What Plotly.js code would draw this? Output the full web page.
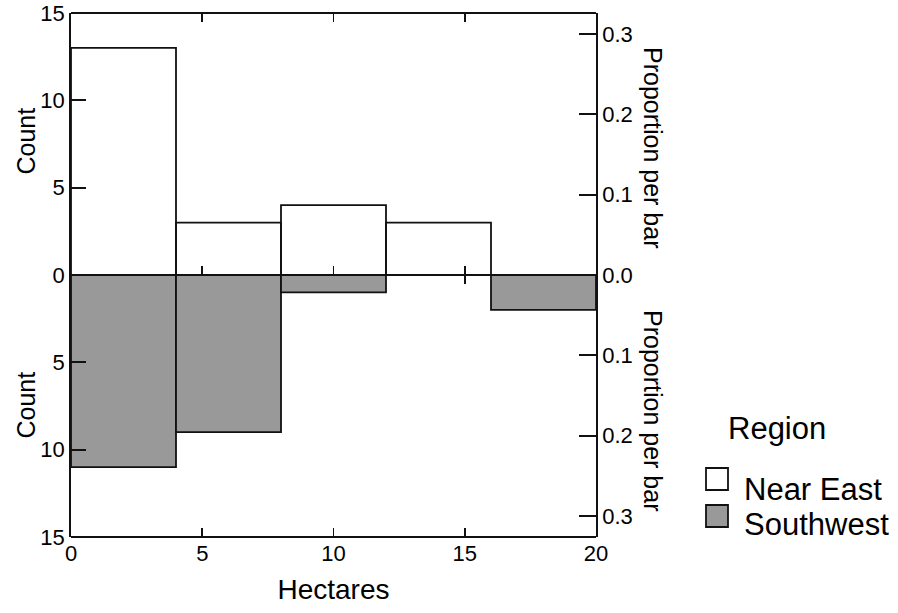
<!DOCTYPE html>
<html><head><meta charset="utf-8">
<script src="https://cdn.plot.ly/plotly-3.0.1.min.js"></script>
<style>body{margin:0;background:#fff}#chart{width:898px;height:613px}</style>
</head><body><div id="chart"></div>
<script>
// Data
const binCenters = [2, 6, 10, 14, 18];
const binWidth = 4;
const nearEast = [13, 3, 4, 3, 0];
const southwest = [11, 9, 1, 0, 2];
const countTicks = [0, 5, 10, 15];
const propTicks = [0, 0.1, 0.2, 0.3];
const propLabels = ['0.0', '0.1', '0.2', '0.3'];
const xTicks = [0, 5, 10, 15, 20];

const total = nearEast.reduce((a,b)=>a+b,0) + southwest.reduce((a,b)=>a+b,0);
const nePct = nearEast.map(v => v/total);
const swPct = southwest.map(v => v/total);

const W = 898, H = 613;
const L = 71, R = 596, T = 13, B = 537;
const px = x => (x - L) / (R - L);
const py = y => (B - y) / (B - T);

const FONT = 'Liberation Sans, Arial, Helvetica, sans-serif';
const GRAY = '#999999';
const LINE = '#111111';
const LW = 1.8;

const traces = [
  {type:'bar', x:binCenters, y:nearEast, width:binWidth, xaxis:'x2', yaxis:'y',
   marker:{color:'rgba(255,255,255,0)', line:{color:LINE, width:LW}}, name:'Near East', showlegend:false, hoverinfo:'x+y'},
  {type:'bar', x:binCenters, y:southwest, width:binWidth, xaxis:'x', yaxis:'y2',
   marker:{color:GRAY, line:{color:LINE, width:LW}}, name:'Southwest', showlegend:false, hoverinfo:'x+y'},
  {type:'scatter', mode:'markers', x:binCenters, y:nePct, xaxis:'x2', yaxis:'y3',
   marker:{opacity:0}, showlegend:false, hoverinfo:'skip'},
  {type:'scatter', mode:'markers', x:binCenters, y:swPct, xaxis:'x', yaxis:'y4',
   marker:{opacity:0}, showlegend:false, hoverinfo:'skip'}
];

const axCommon = {showline:true, linecolor:LINE, linewidth:LW, ticks:'inside', tickcolor:LINE, tickwidth:LW,
  showgrid:false, zeroline:false, tickfont:{family:FONT, size:22, color:'#000'}};

const frameLine = y => ({type:'line', xref:'paper', yref:'paper', x0:0, x1:1, y0:y, y1:y, line:{color:LINE, width:LW}});

const layout = {
  width:W, height:H, autosize:false,
  margin:{l:L, r:W-R, t:T, b:H-B, pad:0},
  paper_bgcolor:'#fff', plot_bgcolor:'#fff',
  barmode:'overlay', bargap:0,
  font:{family:FONT, color:'#000'},
  xaxis: Object.assign({}, axCommon, {domain:[0,1], anchor:'y2', range:[0,20], tickvals:xTicks, ticklen:9,
    showline:false, mirror:'ticks', layer:'below traces', ticklabelstandoff:1,
    title:{text:'Hectares', font:{family:FONT, size:28, color:'#000'}, standoff:14}}),
  xaxis2: Object.assign({}, axCommon, {domain:[0,1], anchor:'y', matches:'x', range:[0,20], tickvals:xTicks, ticklen:9,
    showline:false, mirror:'ticks', showticklabels:false}),
  yaxis: Object.assign({}, axCommon, {domain:[0.5,1], anchor:'x2', range:[0,15], tickvals:countTicks, ticklen:15,
    ticklabelstandoff:0}),
  yaxis2: Object.assign({}, axCommon, {domain:[0,0.5], anchor:'x', range:[15,0], tickvals:[5,10,15], ticklen:15,
    ticklabelstandoff:0}),
  yaxis3: Object.assign({}, axCommon, {overlaying:'y', side:'right', anchor:'x2', range:[0,15/total],
    tickvals:propTicks, ticktext:propLabels, ticklen:17, ticklabelstandoff:0}),
  yaxis4: Object.assign({}, axCommon, {overlaying:'y2', side:'right', anchor:'x', range:[15/total,0],
    tickvals:propTicks.slice(1), ticktext:propLabels.slice(1), ticklen:17, ticklabelstandoff:0}),
  shapes:[
    frameLine(0), frameLine(0.5), frameLine(1),
    {type:'rect', xref:'paper', yref:'paper', x0:px(706), x1:px(728), y0:py(490), y1:py(468),
     fillcolor:'#fff', line:{color:LINE, width:LW}},
    {type:'rect', xref:'paper', yref:'paper', x0:px(706), x1:px(728), y0:py(527), y1:py(505),
     fillcolor:GRAY, line:{color:LINE, width:LW}}
  ],
  annotations:[
    {text:'Count', xref:'paper', yref:'paper', x:px(25.5), y:py(141), textangle:-90,
     showarrow:false, xanchor:'center', yanchor:'middle', font:{family:FONT, size:25, color:'#000'}},
    {text:'Count', xref:'paper', yref:'paper', x:px(25.5), y:py(405), textangle:-90,
     showarrow:false, xanchor:'center', yanchor:'middle', font:{family:FONT, size:25, color:'#000'}},
    {text:'Proportion per bar', xref:'paper', yref:'paper', x:px(653), y:py(148), textangle:90,
     showarrow:false, xanchor:'center', yanchor:'middle', font:{family:FONT, size:25, color:'#000'}},
    {text:'Proportion per bar', xref:'paper', yref:'paper', x:px(653), y:py(411), textangle:90,
     showarrow:false, xanchor:'center', yanchor:'middle', font:{family:FONT, size:25, color:'#000'}},
    {text:'Region', xref:'paper', yref:'paper', x:px(777), y:py(428),
     showarrow:false, xanchor:'center', yanchor:'middle', font:{family:FONT, size:31, color:'#000'}},
    {text:'Near East', xref:'paper', yref:'paper', x:px(742), y:py(489),
     showarrow:false, xanchor:'left', yanchor:'middle', font:{family:FONT, size:31, color:'#000'}},
    {text:'Southwest', xref:'paper', yref:'paper', x:px(742), y:py(524),
     showarrow:false, xanchor:'left', yanchor:'middle', font:{family:FONT, size:31, color:'#000'}}
  ]
};

Plotly.newPlot('chart', traces, layout, {displayModeBar:false, staticPlot:true});
</script></body></html>
